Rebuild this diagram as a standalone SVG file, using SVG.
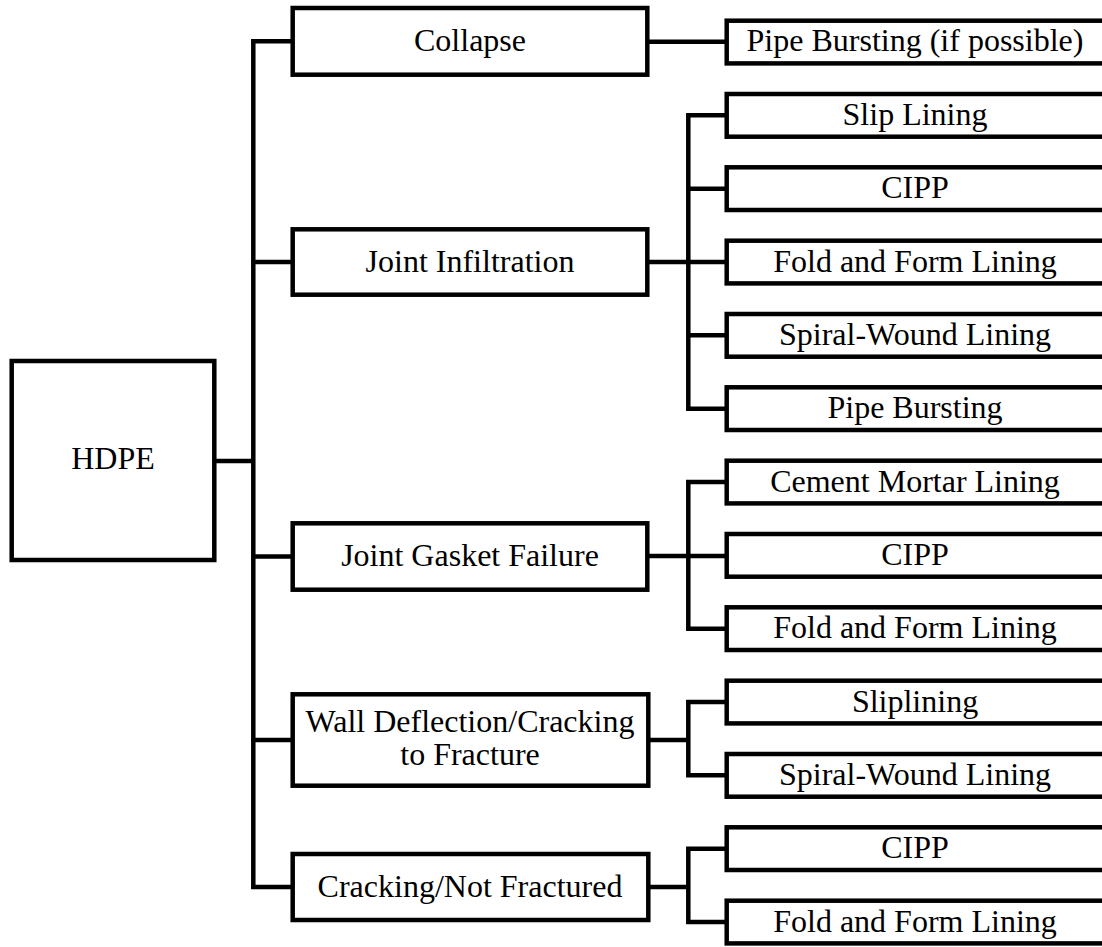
<svg xmlns="http://www.w3.org/2000/svg" width="1102" height="947" viewBox="0 0 1102 947">
  <style>
    .box { fill: #fff; stroke: #000; stroke-width: 4.5; stroke-linejoin: miter; }
    .wire { fill: none; stroke: #000; stroke-width: 4.5; stroke-linejoin: miter; stroke-linecap: butt; }
    .lbl { font-family: 'Liberation Serif', 'Times New Roman', Times, 'DejaVu Serif', serif; font-size: 32px; fill: #000; text-anchor: middle; }
  </style>
  <rect width="1102" height="947" fill="#fff"/>

  <!-- connectors -->
  <g id="connectors">
    <!-- root to main spine -->
    <path class="wire" d="M214.3 461 H253.3"/>
    <path class="wire" d="M292.7 41.3 H253.3 V887 H292.7"/>
    <path class="wire" d="M253.3 262 H292.7 M253.3 556.5 H292.7 M253.3 740 H292.7"/>
    <!-- Collapse -->
    <path class="wire" d="M647.3 41.7 H726.7"/>
    <!-- Joint Infiltration -->
    <path class="wire" d="M647.3 262 H726.7"/>
    <path class="wire" d="M726.7 115.3 H688.3 V408.7 H726.7"/>
    <path class="wire" d="M688.3 188.7 H726.7 M688.3 335.3 H726.7"/>
    <!-- Joint Gasket Failure -->
    <path class="wire" d="M647.3 556 H726.7"/>
    <path class="wire" d="M726.7 482 H688.3 V628.7 H726.7"/>
    <!-- Wall Deflection -->
    <path class="wire" d="M647.3 740 H688.3"/>
    <path class="wire" d="M726.7 702 H688.3 V775.3 H726.7"/>
    <!-- Cracking -->
    <path class="wire" d="M647.3 887 H688.3"/>
    <path class="wire" d="M726.7 848.7 H688.3 V922 H726.7"/>
  </g>

  <g font-family="Liberation Serif, Times New Roman, DejaVu Serif, serif">
  <!-- root -->
  <g id="hdpe">
    <rect class="box" x="11.7" y="361" width="202.6" height="199"/>
    <text class="lbl" x="113" y="469">HDPE</text>
  </g>

  <!-- failure modes -->
  <g id="collapse">
    <rect class="box" x="292.7" y="8" width="354.6" height="66.7"/>
    <text class="lbl" x="470" y="50.7">Collapse</text>
  </g>
  <g id="joint-infiltration">
    <rect class="box" x="292.7" y="229.3" width="354.6" height="65.4"/>
    <text class="lbl" x="470" y="271.5">Joint Infiltration</text>
  </g>
  <g id="joint-gasket-failure">
    <rect class="box" x="292.7" y="523.3" width="354.6" height="66.4"/>
    <text class="lbl" x="470" y="566">Joint Gasket Failure</text>
  </g>
  <g id="wall-deflection">
    <rect class="box" x="292.7" y="694.3" width="355.6" height="91.4"/>
    <text class="lbl" x="470" y="731.7">Wall Deflection/Cracking</text>
    <text class="lbl" x="470" y="765">to Fracture</text>
  </g>
  <g id="cracking-not-fractured">
    <rect class="box" x="292.7" y="854" width="355.6" height="66"/>
    <text class="lbl" x="470" y="896.7">Cracking/Not Fractured</text>
  </g>

  <!-- rehabilitation methods -->
  <g id="m-pipe-bursting-if-possible">
    <rect class="box" x="726.7" y="20.7" width="380" height="42.7"/>
    <text class="lbl" x="915" y="50.7">Pipe Bursting (if possible)</text>
  </g>
  <g id="m-slip-lining">
    <rect class="box" x="726.7" y="94" width="380" height="42.7"/>
    <text class="lbl" x="915" y="124.8">Slip Lining</text>
  </g>
  <g id="m-cipp-1">
    <rect class="box" x="726.7" y="167.3" width="380" height="42.7"/>
    <text class="lbl" x="915" y="198.2">CIPP</text>
  </g>
  <g id="m-fold-form-1">
    <rect class="box" x="726.7" y="240.7" width="380" height="42.7"/>
    <text class="lbl" x="915" y="271.5">Fold and Form Lining</text>
  </g>
  <g id="m-spiral-wound-1">
    <rect class="box" x="726.7" y="314" width="380" height="42.7"/>
    <text class="lbl" x="915" y="344.8">Spiral-Wound Lining</text>
  </g>
  <g id="m-pipe-bursting">
    <rect class="box" x="726.7" y="387.3" width="380" height="42.7"/>
    <text class="lbl" x="915" y="418.2">Pipe Bursting</text>
  </g>
  <g id="m-cement-mortar">
    <rect class="box" x="726.7" y="460.7" width="380" height="42.7"/>
    <text class="lbl" x="915" y="491.5">Cement Mortar Lining</text>
  </g>
  <g id="m-cipp-2">
    <rect class="box" x="726.7" y="534" width="380" height="42.7"/>
    <text class="lbl" x="915" y="564.8">CIPP</text>
  </g>
  <g id="m-fold-form-2">
    <rect class="box" x="726.7" y="607.3" width="380" height="42.7"/>
    <text class="lbl" x="915" y="638.2">Fold and Form Lining</text>
  </g>
  <g id="m-sliplining">
    <rect class="box" x="726.7" y="680.7" width="380" height="42.7"/>
    <text class="lbl" x="915" y="711.5">Sliplining</text>
  </g>
  <g id="m-spiral-wound-2">
    <rect class="box" x="726.7" y="754" width="380" height="42.7"/>
    <text class="lbl" x="915" y="784.8">Spiral-Wound Lining</text>
  </g>
  <g id="m-cipp-3">
    <rect class="box" x="726.7" y="827.3" width="380" height="42.7"/>
    <text class="lbl" x="915" y="858.2">CIPP</text>
  </g>
  <g id="m-fold-form-3">
    <rect class="box" x="726.7" y="900.7" width="380" height="42.7"/>
    <text class="lbl" x="915" y="931.5">Fold and Form Lining</text>
  </g>
  </g>
</svg>
